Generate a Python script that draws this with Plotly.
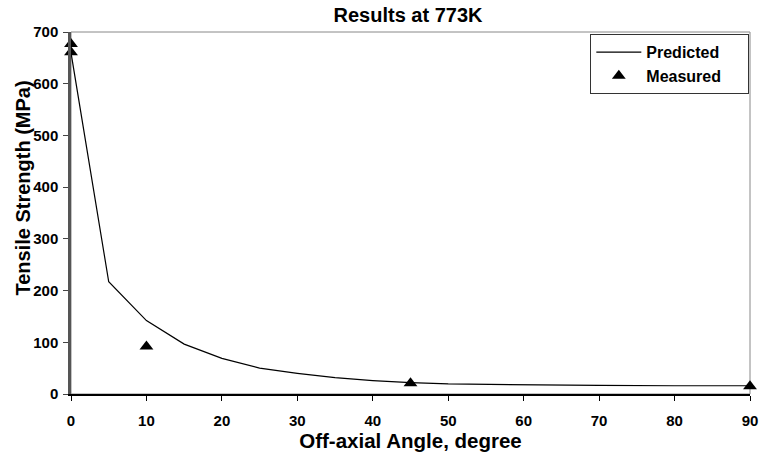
import plotly.graph_objects as go

# Off-axial tensile strength at 773K
pred_angle = [0, 5, 10, 15, 20, 25, 30, 35, 40, 45, 50, 60, 70, 80, 90]
pred_strength = [660, 217, 142, 96.5, 69, 50, 40, 31.5, 26, 22, 19.5, 17.5, 16.5, 16, 16]

meas_angle = [0, 0, 10, 45, 90]
meas_strength = [677, 661, 92, 21, 15]

x_ticks = [0, 10, 20, 30, 40, 50, 60, 70, 80, 90]
y_ticks = [0, 100, 200, 300, 400, 500, 600, 700]

FONT = "Liberation Sans, Arial, sans-serif"
PAD = "\u00a0" * 5  # right-hand padding inside the legend box

fig = go.Figure()
fig.add_trace(go.Scatter(
    x=pred_angle, y=pred_strength, mode="lines", name="Predicted" + PAD,
    line=dict(color="black", width=1.2),
))
fig.add_trace(go.Scatter(
    x=meas_angle, y=meas_strength, mode="markers", name="Measured" + PAD,
    marker=dict(symbol="triangle-up", size=12, color="black"),
    cliponaxis=False,
))

fig.update_layout(
    width=765, height=457,
    margin=dict(l=71, r=7, t=32, b=63),
    paper_bgcolor="white", plot_bgcolor="white",
    font=dict(family=FONT, color="black"),
    showlegend=True,
    title=dict(text="Results at 773K", x=408 / 765, xanchor="center",
               y=1 - 15 / 457, yanchor="middle",
               font=dict(size=20, weight="bold")),
    legend=dict(x=0.999, y=0.994, xanchor="right", yanchor="top",
                bordercolor="#333333", borderwidth=1, bgcolor="white",
                font=dict(size=16, weight="bold"), tracegroupgap=0,
                itemwidth=45),
    shapes=[dict(type="rect", xref="paper", yref="paper", x0=0, x1=1, y0=0, y1=1,
                 line=dict(color="#888888", width=1), layer="below")],
    annotations=[dict(text="Tensile Strength (MPa)", textangle=-90,
                      xref="paper", yref="paper",
                      x=(22 - 71) / 687, y=(394 - 188) / 362,
                      xanchor="center", yanchor="middle", showarrow=False,
                      font=dict(size=20, weight="bold"))],
    xaxis=dict(
        range=[0, 90], tickvals=x_ticks, ticks="outside", ticklen=5,
        tickcolor="black", showline=True, linecolor="black", linewidth=1.5,
        showgrid=False, zeroline=False, ticklabeloverflow="allow",
        ticklabelstandoff=7,
        tickfont=dict(size=15, weight="bold"),
        title=dict(text="Off-axial Angle, degree",
                   font=dict(size=20.5, weight="bold"), standoff=2),
    ),
    yaxis=dict(
        range=[0, 700], tickvals=y_ticks, ticks="outside", ticklen=5,
        tickcolor="#444444", showline=True, linecolor="#555555", linewidth=2.5,
        showgrid=False, zeroline=False, ticklabelstandoff=2,
        tickfont=dict(size=15, weight="bold"),
    ),
)

fig.write_html("out.html")
